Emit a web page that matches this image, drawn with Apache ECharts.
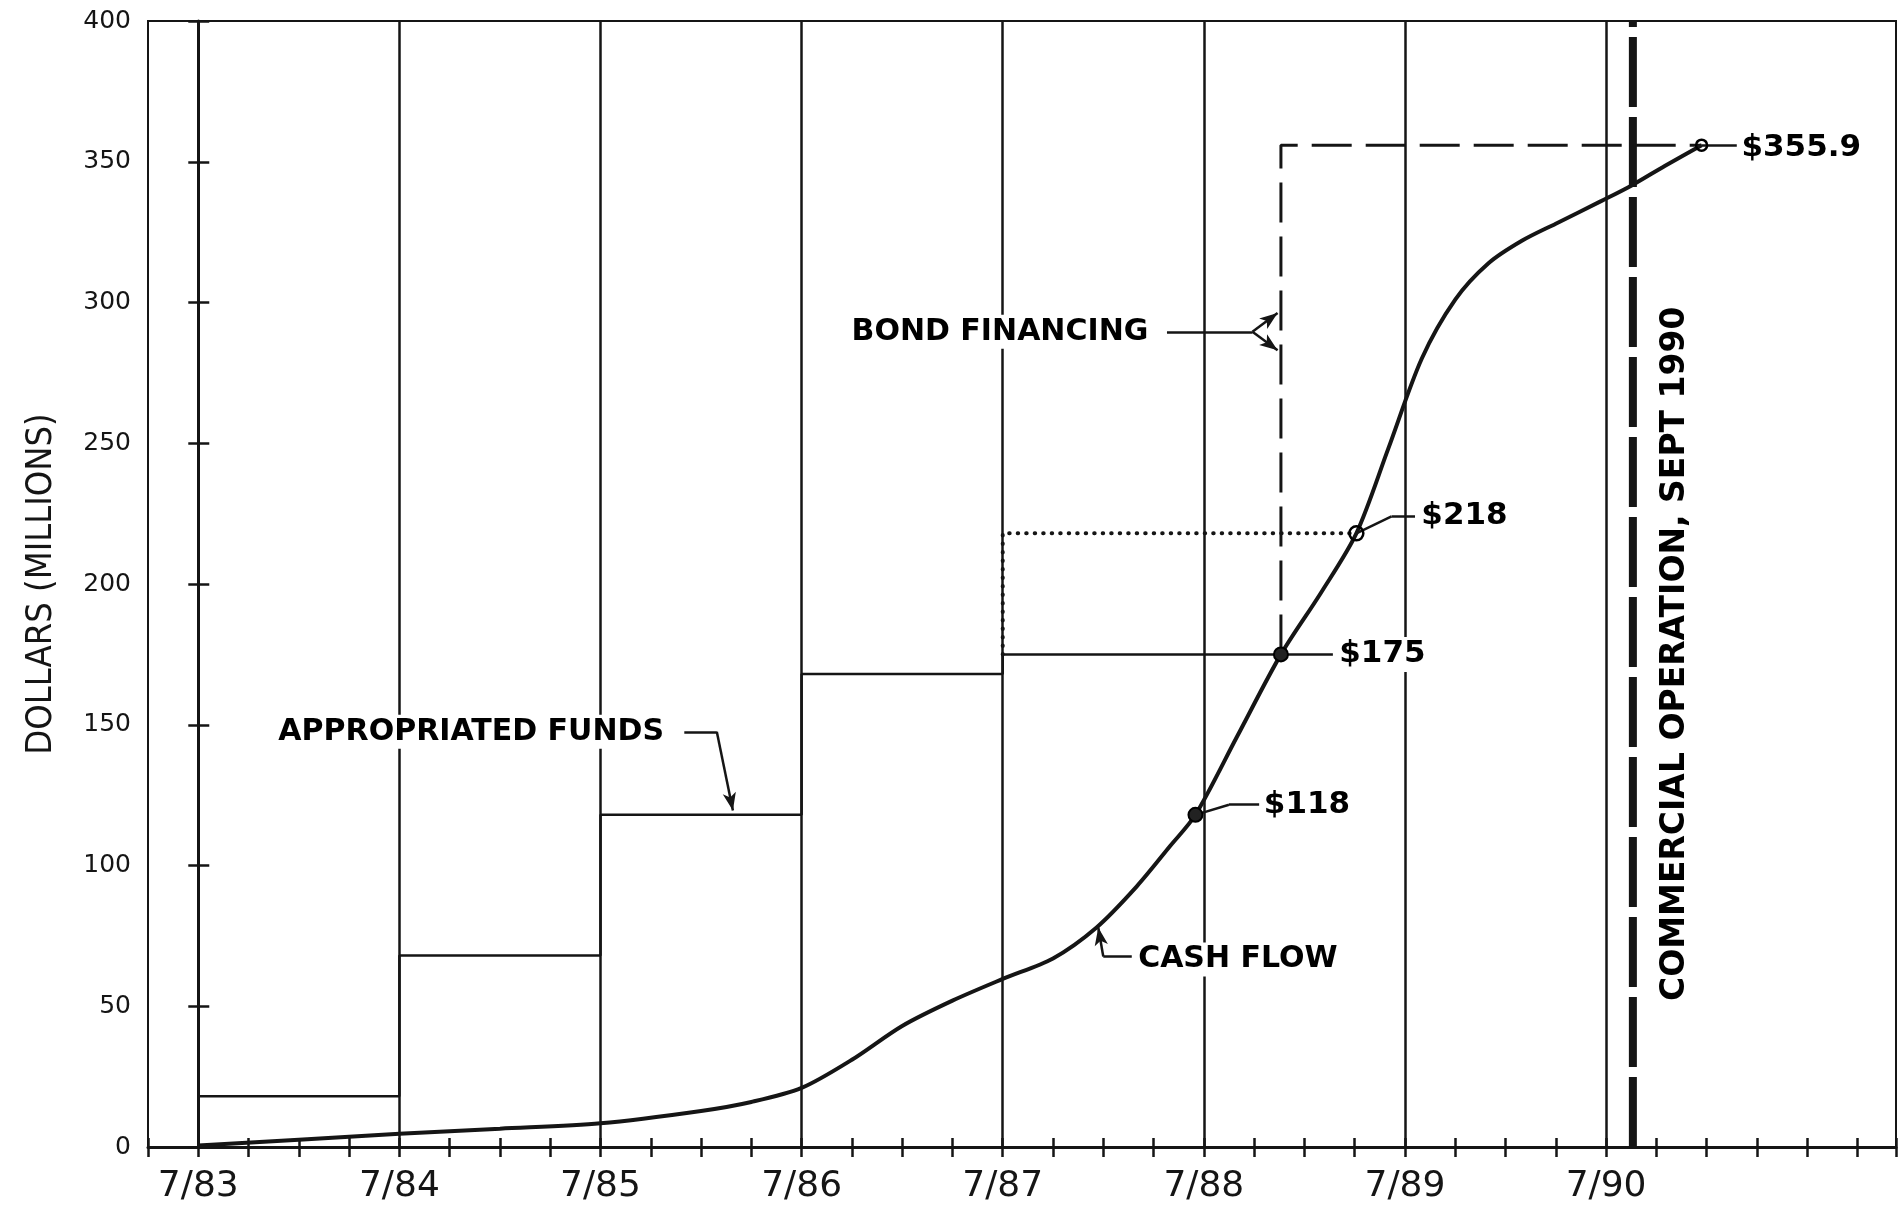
<!DOCTYPE html>
<html>
<head>
<meta charset="utf-8">
<title>Cash flow and financing</title>
<script src="https://cdn.jsdelivr.net/npm/echarts@6/dist/echarts.min.js"></script>
<style>
  html, body { margin: 0; padding: 0; background: #fff; }
  #main { width: 1900px; height: 1219px; }
</style>
</head>
<body>
<div id="main"></div>
<script>
// x values are months counted from 7/83
const yearMonths = [0, 12, 24, 36, 48, 60, 72, 84];
const yearLabels = ["7/83", "7/84", "7/85", "7/86", "7/87", "7/88", "7/89", "7/90"];

// appropriated funds, one step per fiscal year
const fundStart = [0, 12, 24, 36, 48];
const fundEnd = [12, 24, 36, 48, 64.6];
const fundLevel = [18, 68, 118, 168, 175];

// cumulative cash flow curve
const cashMonths = [0, 6, 12, 18, 24, 30, 33, 36, 39, 42, 45, 48, 51, 53.6, 56, 58, 59.5, 62, 64.6, 67, 69.1, 71, 73, 75, 77, 79, 81, 83.7, 85.5, 87.5, 89.7];
const cashValues = [0.5, 2.6, 4.7, 6.5, 8.4, 12.8, 16, 21, 31, 43, 52, 59.7, 67, 78, 92.6, 107, 118, 146, 175, 197, 218, 248, 280, 301, 314, 322, 328, 336, 341.5, 348.5, 355.9];

// labelled points on the curve
const pointMonths = [59.5, 64.6, 69.1, 89.7];
const pointValues = [118, 175, 218, 355.9];
const pointLabels = ["$118", "$175", "$218", "$355.9"];

const bondMonth = 64.6;
const bondTotal = 355.9;
const dottedLevel = 218;
const commercialMonth = 85.6;

const ink = "#151515";

const fundData = [];
fundStart.forEach((s, i) => {
  fundData.push([s, fundLevel[i]]);
  fundData.push([fundEnd[i], fundLevel[i]]);
});

const cashData = cashMonths.map((m, i) => [m, cashValues[i]]);

function yearLabel(v) {
  const i = yearMonths.indexOf(Math.round(v));
  return i >= 0 && Math.abs(v - yearMonths[i]) < 0.01 ? yearLabels[i] : "";
}

const textStyle = {
  show: true,
  position: "right",
  distance: 0,
  color: "#000",
  opacity: 1,
  fontFamily: "DejaVu Sans",
  fontWeight: "bold",
  fontSize: 30,
  backgroundColor: "#fff",
  padding: [2, 3]
};

const myChart = echarts.init(document.getElementById("main"));

const option = {
  backgroundColor: "#fff",
  animation: false,
  grid: {
    left: 148,
    right: 4,
    top: 21,
    bottom: 72,
    show: true,
    borderColor: ink,
    borderWidth: 2,
    backgroundColor: "transparent"
  },
  xAxis: [
    {
      type: "value",
      min: -3,
      max: 101.3,
      interval: 3,
      axisLine: { show: true, lineStyle: { color: ink, width: 3 } },
      axisTick: { show: true, inside: false, length: 10, lineStyle: { color: ink, width: 2.5 } },
      axisLabel: {
        formatter: yearLabel,
        color: ink,
        fontFamily: "DejaVu Sans",
        fontSize: 36,
        margin: 22
      },
      splitLine: { show: false }
    },
    {
      type: "value",
      min: -3,
      max: 101.3,
      interval: 3,
      position: "bottom",
      axisLine: { show: false },
      axisTick: { show: true, inside: true, length: 9, lineStyle: { color: ink, width: 2.5 } },
      axisLabel: { show: false },
      splitLine: { show: false }
    }
  ],
  yAxis: [
    {
      type: "value",
      min: 0,
      max: 400,
      interval: 50,
      name: "DOLLARS (MILLIONS)",
      nameLocation: "middle",
      nameRotate: 90,
      nameGap: 88,
      nameTextStyle: {
        color: ink,
        fontFamily: "DejaVu Sans Condensed",
        fontSize: 36
      },
      axisLine: { show: true, lineStyle: { color: ink, width: 3 } },
      axisTick: { show: true, inside: false, length: 10, lineStyle: { color: ink, width: 2.5 } },
      axisLabel: {
        color: ink,
        fontFamily: "DejaVu Sans",
        fontSize: 25,
        margin: 17
      },
      splitLine: { show: false }
    },
    {
      type: "value",
      min: 0,
      max: 400,
      interval: 50,
      position: "left",
      axisLine: { show: false },
      axisTick: { show: true, inside: true, length: 11, lineStyle: { color: ink, width: 2.5 } },
      axisLabel: { show: false },
      splitLine: { show: false }
    }
  ],
  series: [
    {
      name: "Appropriated funds",
      type: "line",
      data: fundData,
      symbol: "none",
      lineStyle: { color: ink, width: 2.5 },
      z: 2,
      markLine: {
        silent: true,
        symbol: "none",
        label: { show: false },
        lineStyle: { color: ink, width: 2.5, type: "solid" },
        data: yearMonths.map((m) => ({ xAxis: m }))
      }
    },
    {
      name: "Commercial operation",
      type: "line",
      data: [[commercialMonth, 0], [commercialMonth, 400]],
      symbol: "none",
      lineStyle: { color: ink, width: 8, type: [70, 10] },
      z: 3
    },
    {
      name: "Bond financing",
      type: "line",
      data: [[bondMonth, fundLevel[4]], [bondMonth, bondTotal], [pointMonths[3], bondTotal]],
      symbol: "none",
      lineStyle: { color: ink, width: 3, type: [40, 14] },
      z: 3
    },
    {
      name: "Dotted",
      type: "line",
      data: [[fundStart[4], fundLevel[4]], [fundStart[4], dottedLevel], [pointMonths[2], dottedLevel]],
      symbol: "none",
      lineStyle: { color: ink, width: 4, type: [0.5, 8], cap: "round" },
      z: 3
    },
    {
      name: "Cash flow",
      type: "line",
      data: cashData,
      smooth: 0.3,
      symbol: "none",
      lineStyle: { color: ink, width: 4 },
      z: 4
    },
    {
      name: "Leaders",
      type: "line",
      data: [],
      z: 4,
      markLine: {
        silent: true,
        symbol: "none",
        label: { show: false },
        lineStyle: { color: ink, width: 2.5, type: "solid" },
        data: [
          [{ coord: [29.0, 147.5] }, { coord: [30.94, 147.5] }],
          [{ coord: [30.94, 147.5] }, { coord: [31.9, 119.5], symbol: "arrow", symbolSize: [10, 18] }],
          [{ coord: [57.8, 289.6] }, { coord: [62.9, 289.6] }],
          [{ coord: [62.9, 289.6] }, { coord: [64.4, 296.3], symbol: "arrow", symbolSize: [10, 18] }],
          [{ coord: [62.9, 289.6] }, { coord: [64.4, 283.0], symbol: "arrow", symbolSize: [10, 18] }],
          [{ coord: [55.7, 67.7] }, { coord: [54.0, 67.7] }],
          [{ coord: [54.0, 67.7] }, { coord: [53.7, 78.0], symbol: "arrow", symbolSize: [10, 18] }],
          [{ coord: [pointMonths[0], pointValues[0]] }, { coord: [61.5, 121.6] }],
          [{ coord: [61.5, 121.6] }, { coord: [63.3, 121.6] }],
          [{ coord: [pointMonths[1], pointValues[1]] }, { coord: [67.7, 175] }],
          [{ coord: [pointMonths[2], pointValues[2]] }, { coord: [71.2, 224] }],
          [{ coord: [71.2, 224] }, { coord: [72.6, 224] }],
          [{ coord: [pointMonths[3], pointValues[3]] }, { coord: [91.8, 355.9] }]
        ]
      }
    },
    {
      name: "Milestones",
      type: "scatter",
      z: 6,
      data: pointMonths.map((m, i) => ({
        value: [m, pointValues[i]],
        symbolSize: i === 3 ? 11 : 14,
        itemStyle: i < 2
          ? { color: "#222", borderColor: "#000", borderWidth: 2, opacity: 1 }
          : { color: "rgba(255,255,255,0)", borderColor: "#000", borderWidth: 2.5, opacity: 1 }
      }))
    },
    {
      name: "Notes",
      type: "scatter",
      symbolSize: 0,
      itemStyle: { opacity: 1 },
      z: 5,
      data: [
        { value: [4.6, 147.5], label: Object.assign({}, textStyle, { formatter: "APPROPRIATED FUNDS" }) },
        { value: [38.8, 289.6], label: Object.assign({}, textStyle, { formatter: "BOND FINANCING" }) },
        { value: [55.9, 66.6], label: Object.assign({}, textStyle, { formatter: "CASH FLOW" }) },
        { value: [63.4, 121.6], label: Object.assign({}, textStyle, { formatter: pointLabels[0], fontSize: 31 }) },
        { value: [67.9, 175], label: Object.assign({}, textStyle, { formatter: pointLabels[1], fontSize: 31 }) },
        { value: [72.8, 224], label: Object.assign({}, textStyle, { formatter: pointLabels[2], fontSize: 31 }) },
        { value: [91.9, 354.8], label: Object.assign({}, textStyle, { formatter: pointLabels[3], fontSize: 31, backgroundColor: "transparent" }) },
        {
          value: [88.15, 175.2],
          label: Object.assign({}, textStyle, {
            formatter: "COMMERCIAL OPERATION, SEPT 1990",
            position: "inside",
            rotate: 90,
            fontSize: 33,
            backgroundColor: "transparent"
          })
        }
      ]
    }
  ]
};

option && myChart.setOption(option);
</script>
</body>
</html>
